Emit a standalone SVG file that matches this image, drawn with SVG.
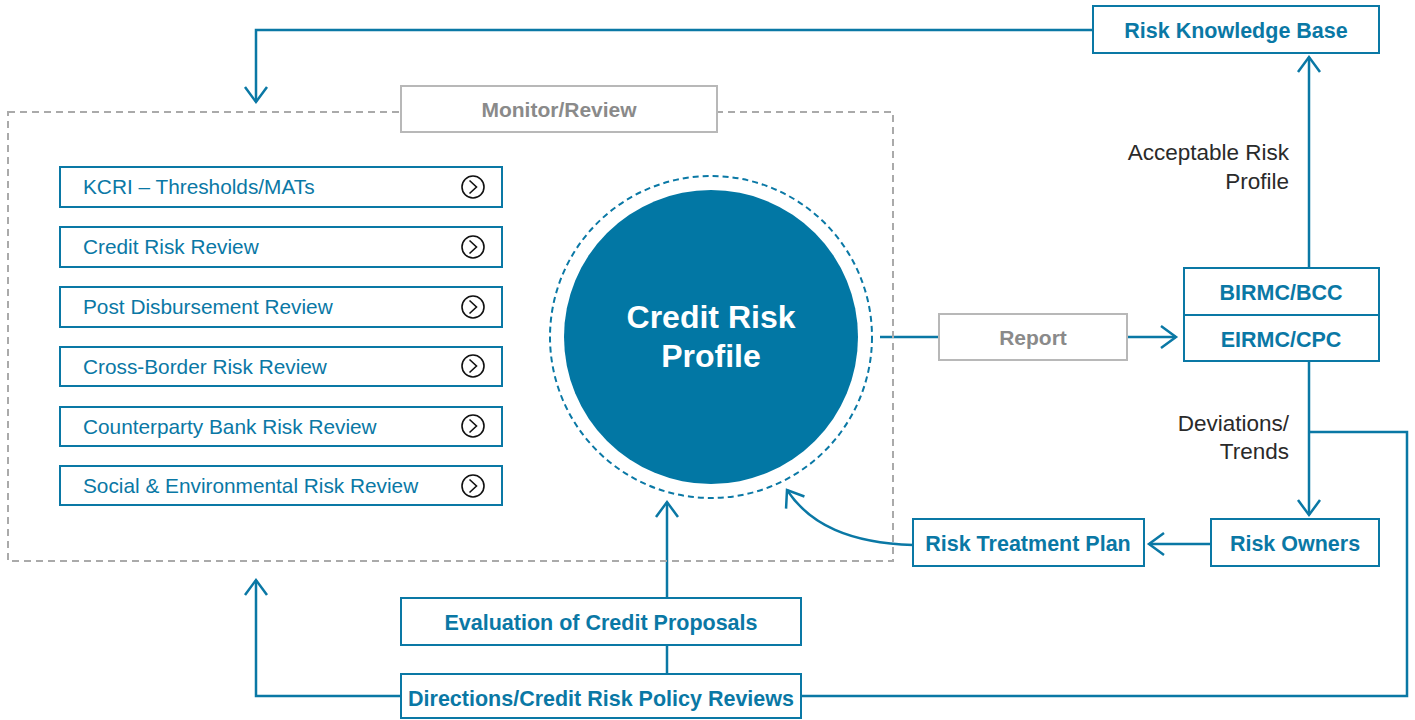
<svg xmlns="http://www.w3.org/2000/svg" width="1415" height="720" viewBox="0 0 1415 720">
<style>
.bx{fill:#fff;stroke:#0a78a5;stroke-width:2}
.gb{fill:#fff;stroke:#b8b8b8;stroke-width:2}
.it{font-family:"Liberation Sans",Arial,sans-serif;font-size:20.8px;fill:#0a78a5}
.bl{font-family:"Liberation Sans",Arial,sans-serif;font-size:21.5px;font-weight:bold;fill:#0a78a5;text-anchor:middle}
.gl{font-family:"Liberation Sans",Arial,sans-serif;font-size:21px;font-weight:bold;fill:#8a8a8a;text-anchor:middle}
.lb{font-family:"Liberation Sans",Arial,sans-serif;font-size:22.5px;fill:#2a2a2a;text-anchor:end}
.ln{fill:none;stroke:#0a78a5;stroke-width:2.5}
.ic{fill:none;stroke:#111;stroke-width:1.6}
</style>
<defs>
<marker id="ah" markerUnits="userSpaceOnUse" viewBox="-17 -13 20 26" refX="0" refY="0" markerWidth="20" markerHeight="26" orient="auto">
<path d="M-15,-11 L0,0 L-15,11" fill="none" stroke="#0a78a5" stroke-width="2.5"/>
</marker>
<g id="chev"><circle r="11" class="ic"/><path d="M-3.5,-6.5 L3.5,0 L-3.5,6.5" class="ic"/></g>
</defs>
<rect width="1415" height="720" fill="#fff"/>

<g id="connectors">
<path class="ln" d="M1093,30 H256 V102" marker-end="url(#ah)"/>
<path class="ln" d="M880,337 H939"/>
<path class="ln" d="M1127,337 H1176" marker-end="url(#ah)"/>
<path class="ln" d="M1309,268 V57" marker-end="url(#ah)"/>
<path class="ln" d="M1309,361 V515" marker-end="url(#ah)"/>
<path class="ln" d="M1309,432 H1407 V696 H801"/>
<path class="ln" d="M1210,544 H1149" marker-end="url(#ah)"/>
<path class="ln" d="M913,545 C850,543 810,525 787,490" marker-end="url(#ah)"/>
<path class="ln" d="M667,598 V502" marker-end="url(#ah)"/>
<path class="ln" d="M667,645 V674"/>
<path class="ln" d="M401,696 H256 V580" marker-end="url(#ah)"/>
</g>

<g id="monitor-review">
<rect x="8" y="112" width="885" height="449" fill="none" stroke="#aaa" stroke-width="2" stroke-dasharray="7,5"/>
<rect x="401" y="86" width="316" height="46" class="gb"/>
<text x="559" y="117" class="gl" font-size="22">Monitor/Review</text>
</g>

<g id="kcri"><rect x="60" y="167" width="442" height="40" class="bx"/><text x="83" y="194" class="it">KCRI – Thresholds/MATs</text><use href="#chev" x="473" y="187"/></g>
<g id="crr"><rect x="60" y="227" width="442" height="40" class="bx"/><text x="83" y="254" class="it">Credit Risk Review</text><use href="#chev" x="473" y="247"/></g>
<g id="pdr"><rect x="60" y="287" width="442" height="40" class="bx"/><text x="83" y="314" class="it">Post Disbursement Review</text><use href="#chev" x="473" y="307"/></g>
<g id="cbrr"><rect x="60" y="347" width="442" height="39" class="bx"/><text x="83" y="374" class="it">Cross-Border Risk Review</text><use href="#chev" x="473" y="366"/></g>
<g id="cbkrr"><rect x="60" y="407" width="442" height="39" class="bx"/><text x="83" y="434" class="it">Counterparty Bank Risk Review</text><use href="#chev" x="473" y="426"/></g>
<g id="serr"><rect x="60" y="466" width="442" height="39" class="bx"/><text x="83" y="493" class="it">Social &amp; Environmental Risk Review</text><use href="#chev" x="473" y="486"/></g>

<g id="credit-risk-profile">
<circle cx="711" cy="337" r="161" fill="none" stroke="#0a78a5" stroke-width="2" stroke-dasharray="6,4"/>
<circle cx="711" cy="337" r="147" fill="#0277a4"/>
<text x="711" y="328" font-family="Liberation Sans, Arial, sans-serif" font-size="32" font-weight="bold" fill="#fff" text-anchor="middle">Credit Risk</text>
<text x="711" y="367" font-family="Liberation Sans, Arial, sans-serif" font-size="32" font-weight="bold" fill="#fff" text-anchor="middle">Profile</text>
</g>

<g id="report"><rect x="939" y="314" width="188" height="46" class="gb"/><text x="1033" y="345" class="gl">Report</text></g>

<g id="rkb"><rect x="1093" y="6" width="286" height="47" class="bx"/><text x="1236" y="38" class="bl">Risk Knowledge Base</text></g>

<g id="committees">
<rect x="1184" y="268" width="195" height="93" class="bx"/>
<line x1="1184" y1="315" x2="1379" y2="315" stroke="#0a78a5" stroke-width="2"/>
<text x="1281" y="300" class="bl">BIRMC/BCC</text>
<text x="1281" y="347" class="bl">EIRMC/CPC</text>
</g>

<g id="labels">
<text x="1289" y="160" class="lb">Acceptable Risk</text>
<text x="1289" y="189" class="lb">Profile</text>
<text x="1289" y="431" class="lb">Deviations/</text>
<text x="1289" y="459" class="lb">Trends</text>
</g>

<g id="risk-owners"><rect x="1211" y="519" width="168" height="47" class="bx"/><text x="1295" y="551" class="bl">Risk Owners</text></g>
<g id="rtp"><rect x="913" y="519" width="231" height="47" class="bx"/><text x="1028" y="551" class="bl">Risk Treatment Plan</text></g>

<g id="evaluation"><rect x="401" y="598" width="400" height="47" class="bx"/><text x="601" y="630" class="bl">Evaluation of Credit Proposals</text></g>
<g id="directions"><rect x="401" y="674" width="400" height="44" class="bx"/><text x="601" y="706" class="bl">Directions/Credit Risk Policy Reviews</text></g>
</svg>
